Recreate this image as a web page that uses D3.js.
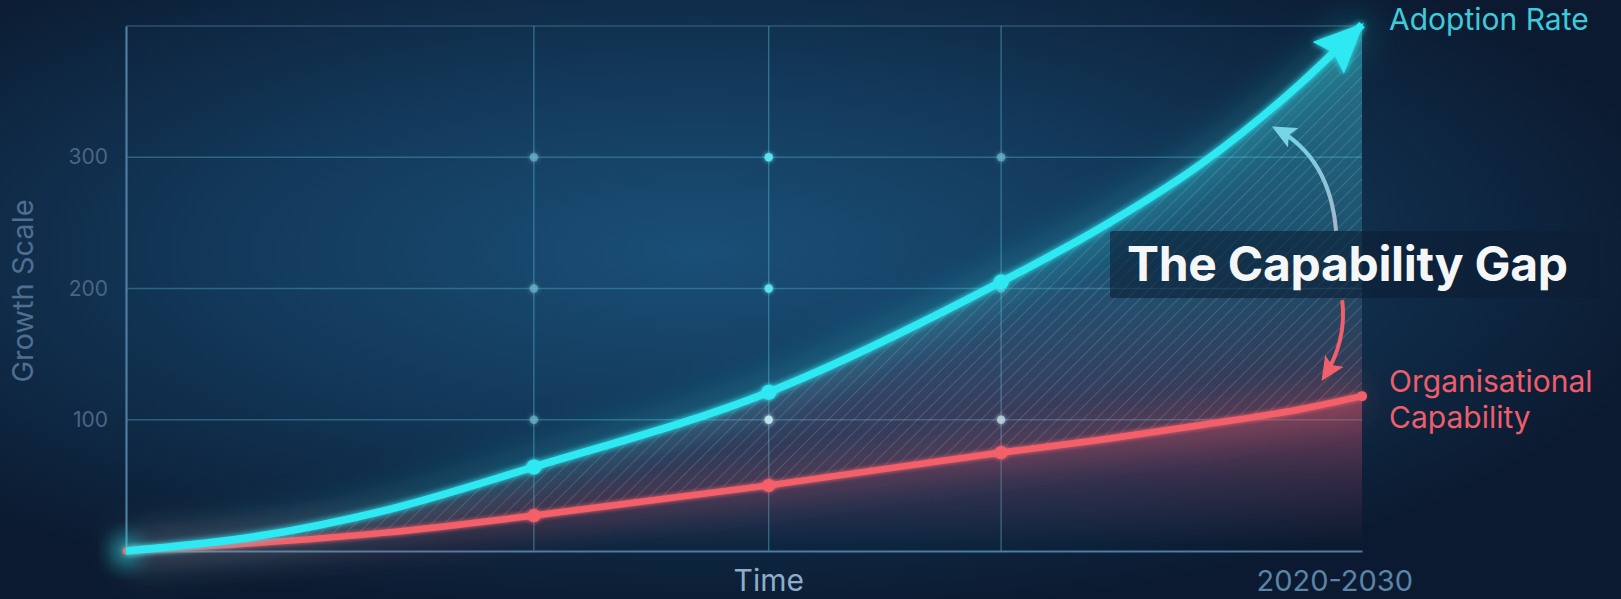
<!DOCTYPE html>
<html>
<head>
<meta charset="utf-8">
<script src="https://cdn.jsdelivr.net/npm/d3@7"></script>
<style>
  html, body { margin: 0; padding: 0; background: #0b1a2f; overflow: hidden; }
  svg { display: block; }
  text { font-family: "Inter", "Noto Sans", sans-serif; }
</style>
</head>
<body>
<svg id="chart" width="1621" height="599"></svg>
<script>
// ---------- data ----------
const timePoints   = [0, 1.05, 2.1, 3.3, 5.2, 7.08, 7.9, 8.7, 9.5, 10];   // years after 2020
const adoption     = [0, 11, 31, 64, 121, 205, 247, 295, 356, 401];       // Adoption Rate
const capability   = [0, 6, 14, 27, 50, 75, 85, 96, 108, 118];           // Organisational Capability
const yTicks       = [100, 200, 300];
const gridX        = [3.3, 5.2, 7.08];
const yAxisTitle   = "Growth Scale";
const xAxisTitle   = "Time";
const xRangeLabel  = "2020-2030";
const seriesNames  = ["Adoption Rate", ["Organisational", "Capability"]];
const gapTitle     = "The Capability Gap";

const W = 1621, H = 599;
const svg = d3.select("#chart");
const x = d3.scaleLinear().domain([0, 10]).range([126, 1362]);
const y = d3.scaleLinear().domain([0, 400]).range([551, 26]);

const defs = svg.append("defs");

// background gradient
const bg = defs.append("radialGradient").attr("id", "bg")
  .attr("cx", 0.43).attr("cy", 0.42).attr("r", 0.62);
bg.append("stop").attr("offset", 0).attr("stop-color", "#1a4f77");
bg.append("stop").attr("offset", 0.45).attr("stop-color", "#133a5c");
bg.append("stop").attr("offset", 1).attr("stop-color", "#0b1a30");

// gap fill gradient
const gapG = defs.append("linearGradient").attr("id", "gapG")
  .attr("gradientUnits", "userSpaceOnUse").attr("x1", 0).attr("x2", 0).attr("y1", 20).attr("y2", 560);
gapG.append("stop").attr("offset", 0).attr("stop-color", "#3fd3e3").attr("stop-opacity", 0.5);
gapG.append("stop").attr("offset", 0.45).attr("stop-color", "#3fb8d0").attr("stop-opacity", 0.22);
gapG.append("stop").attr("offset", 0.72).attr("stop-color", "#e0607a").attr("stop-opacity", 0.22);
gapG.append("stop").attr("offset", 1).attr("stop-color", "#f25c66").attr("stop-opacity", 0.15);

// horizontal fade (gap strongest at right)
const gapH = defs.append("linearGradient").attr("id", "gapH")
  .attr("gradientUnits", "userSpaceOnUse").attr("x1", 126).attr("x2", 1362).attr("y1", 0).attr("y2", 0);
gapH.append("stop").attr("offset", 0).attr("stop-color", "#fff").attr("stop-opacity", 0.35);
gapH.append("stop").attr("offset", 1).attr("stop-color", "#fff").attr("stop-opacity", 1);
const gapMask = defs.append("mask").attr("id", "gapMask");
gapMask.append("rect").attr("width", W).attr("height", H).attr("fill", "url(#gapH)");

// red fill under capability
const redG = defs.append("linearGradient").attr("id", "redG")
  .attr("gradientUnits", "userSpaceOnUse").attr("x1", 0).attr("x2", 0).attr("y1", 385).attr("y2", 545);
redG.append("stop").attr("offset", 0).attr("stop-color", "#f25c70").attr("stop-opacity", 0.55);
redG.append("stop").attr("offset", 0.6).attr("stop-color", "#c04a6a").attr("stop-opacity", 0.2);
redG.append("stop").attr("offset", 1).attr("stop-color", "#c04a6a").attr("stop-opacity", 0.0);

// hatch pattern
const hatch = defs.append("pattern").attr("id", "hatch")
  .attr("patternUnits", "userSpaceOnUse").attr("width", 9).attr("height", 9)
  .attr("patternTransform", "rotate(45)");
hatch.append("line").attr("x1", 0).attr("y1", 0).attr("x2", 0).attr("y2", 9)
  .attr("stroke", "#e8d8e8").attr("stroke-opacity", 0.28).attr("stroke-width", 1.2);

// filters
function glowFilter(id, sd) {
  const f = defs.append("filter").attr("id", id).attr("x", "-50%").attr("y", "-50%").attr("width", "200%").attr("height", "200%");
  f.append("feGaussianBlur").attr("in", "SourceGraphic").attr("stdDeviation", sd).attr("result", "b");
  const m = f.append("feMerge");
  m.append("feMergeNode").attr("in", "b");
  m.append("feMergeNode").attr("in", "SourceGraphic");
}
glowFilter("glow", 3);
glowFilter("glowS", 2);
const blur = defs.append("filter").attr("id", "blur").attr("x", "-50%").attr("y", "-50%").attr("width", "200%").attr("height", "200%");
blur.append("feGaussianBlur").attr("stdDeviation", 10);
const blurBig = defs.append("filter").attr("id", "blurBig").attr("x", "-50%").attr("y", "-50%").attr("width", "200%").attr("height", "200%");
blurBig.append("feGaussianBlur").attr("stdDeviation", 18);

// arrow markers
defs.append("marker").attr("id", "arrowCyan")
  .attr("markerUnits", "userSpaceOnUse").attr("viewBox", "0 0 40 36")
  .attr("markerWidth", 50).attr("markerHeight", 45).attr("refX", 38).attr("refY", 18).attr("orient", "auto")
  .append("path").attr("d", "M0,0 L40,18 L0,36 L6,18 Z").attr("fill", "#2ee8f2");
defs.append("marker").attr("id", "arrowAnnC")
  .attr("markerUnits", "userSpaceOnUse").attr("viewBox", "0 0 24 22")
  .attr("markerWidth", 24).attr("markerHeight", 22).attr("refX", 20).attr("refY", 11).attr("orient", "auto")
  .append("path").attr("d", "M0,0 L24,11 L0,22 L5,11 Z").attr("fill", "#78d4e4");
defs.append("marker").attr("id", "arrowAnnR")
  .attr("markerUnits", "userSpaceOnUse").attr("viewBox", "0 0 24 22")
  .attr("markerWidth", 24).attr("markerHeight", 22).attr("refX", 20).attr("refY", 11).attr("orient", "auto")
  .append("path").attr("d", "M0,0 L24,11 L0,22 L5,11 Z").attr("fill", "#f0606c");

const annCG = defs.append("linearGradient").attr("id", "annCG")
  .attr("gradientUnits", "userSpaceOnUse").attr("x1", 0).attr("x2", 0).attr("y1", y(245)).attr("y2", y(322));
annCG.append("stop").attr("offset", 0).attr("stop-color", "#aab4c8");
annCG.append("stop").attr("offset", 1).attr("stop-color", "#6fd6e6");

// ---------- background ----------
svg.append("rect").attr("width", W).attr("height", H).attr("fill", "url(#bg)");

// ---------- grid ----------
const grid = svg.append("g");
grid.selectAll("line.h").data(yTicks.concat([400])).join("line")
  .attr("x1", x(0)).attr("x2", x(10)).attr("y1", d => y(d)).attr("y2", d => y(d))
  .attr("stroke", d => d === 400 ? "#3f6f8f" : "#4aa3bd").attr("stroke-opacity", d => d === 400 ? 0.6 : 0.45).attr("stroke-width", 1.3);
grid.selectAll("line.v").data(gridX).join("line")
  .attr("x1", d => x(d)).attr("x2", d => x(d)).attr("y1", y(400)).attr("y2", y(0))
  .attr("stroke", "#4fb4cc").attr("stroke-opacity", 0.5).attr("stroke-width", 1.3);

// ---------- areas ----------
const curve = d3.curveMonotoneX;
const pts = timePoints.map((t, i) => ({ t, a: adoption[i], c: capability[i] }));

svg.append("path").datum(pts)
  .attr("d", d3.area().curve(curve).x(d => x(d.t)).y0(d => y(d.c)).y1(d => y(d.a)))
  .attr("fill", "url(#gapG)").attr("mask", "url(#gapMask)");
svg.append("path").datum(pts)
  .attr("d", d3.area().curve(curve).x(d => x(d.t)).y0(y(0)).y1(d => y(d.c)))
  .attr("fill", "url(#redG)");
svg.append("path").datum(pts)
  .attr("d", d3.area().curve(curve).x(d => x(d.t)).y0(d => y(d.c)).y1(d => y(d.a)))
  .attr("fill", "url(#hatch)");

// grid intersection dots
const inter = [];
gridX.forEach((gx, i) => yTicks.forEach((gy, j) => inter.push({ gx, gy, i, j })));
svg.append("g").selectAll("circle").data(inter).join("circle")
  .attr("cx", d => x(d.gx)).attr("cy", d => y(d.gy)).attr("r", 4.2)
  .attr("fill", d => d.j === 0 && d.i > 0 ? "#c8e4ee" : (d.i === 1 ? "#5ee4f0" : "#6ab4c8"))
  .attr("fill-opacity", d => d.i === 1 ? 0.95 : 0.7)
  .attr("filter", "url(#glowS)");

// ---------- axes ----------
const yAxis = svg.append("g").attr("transform", `translate(${x(0)},0)`)
  .call(d3.axisLeft(y).tickValues(yTicks).tickSize(0).tickPadding(18).tickFormat(d3.format("d")));
yAxis.select(".domain").attr("stroke", "#4d7d9f").attr("stroke-width", 2.2);
yAxis.selectAll("text").attr("fill", "#4a6583").attr("font-size", 21).attr("font-family", "Inter");

const xAxis = svg.append("g").attr("transform", `translate(0,${y(0)})`)
  .call(d3.axisBottom(x).tickValues([]).tickSizeOuter(0));
xAxis.select(".domain").attr("stroke", "#4d7d9f").attr("stroke-width", 2.2);

// ---------- lines ----------
const line = d3.line().curve(curve).x(d => x(d.t));
// halos
svg.append("path").datum(pts).attr("d", line.y(d => y(d.a)))
  .attr("fill", "none").attr("stroke", "#2ee8f2").attr("stroke-width", 26).attr("stroke-opacity", 0.28).attr("filter", "url(#blurBig)");
svg.append("path").datum(pts).attr("d", line.y(d => y(d.c)))
  .attr("fill", "none").attr("stroke", "#f25c66").attr("stroke-width", 22).attr("stroke-opacity", 0.3).attr("filter", "url(#blurBig)");
// origin glow
svg.append("circle").attr("cx", x(0)).attr("cy", y(0)).attr("r", 14).attr("fill", "#2ee8f2").attr("opacity", 0.6).attr("filter", "url(#blur)");

svg.append("path").datum(pts).attr("d", line.y(d => y(d.c)))
  .attr("fill", "none").attr("stroke", "#f4606a").attr("stroke-width", 6.5).attr("stroke-linecap", "round").attr("filter", "url(#glowS)");
svg.append("path").datum(pts).attr("d", line.y(d => y(d.a)))
  .attr("fill", "none").attr("stroke", "#2ee8f2").attr("stroke-width", 7.5).attr("stroke-linecap", "butt")
  .attr("marker-end", "url(#arrowCyan)").attr("filter", "url(#glow)");

// data points
const inner = pts.filter(d => gridX.includes(d.t));
svg.append("g").selectAll("circle").data(inner).join("circle")
  .attr("cx", d => x(d.t)).attr("cy", d => y(d.c)).attr("r", 6.5)
  .attr("fill", "#f4606a").attr("filter", "url(#glowS)");
svg.append("g").selectAll("circle").data(inner).join("circle")
  .attr("cx", d => x(d.t)).attr("cy", d => y(d.a)).attr("r", 7.5)
  .attr("fill", "#2ee8f2").attr("filter", "url(#glowS)");
svg.append("circle").attr("cx", x(10)).attr("cy", y(capability[capability.length - 1])).attr("r", 5).attr("fill", "#f4606a");

// ---------- gap annotation ----------
svg.append("rect").attr("x", 1110).attr("y", 231).attr("width", 490).attr("height", 67).attr("rx", 3)
  .attr("fill", "#0b1e33").attr("fill-opacity", 0.6);

svg.append("path")
  .attr("d", `M${x(9.79)},${y(244)} Q${x(9.74)},${y(300)} ${x(9.3)},${y(322)}`)
  .attr("fill", "none").attr("stroke", "url(#annCG)").attr("stroke-width", 4).attr("marker-end", "url(#arrowAnnC)");
svg.append("path")
  .attr("d", `M${x(9.84)},${y(191)} Q${x(9.88)},${y(160)} ${x(9.69)},${y(132)}`)
  .attr("fill", "none").attr("stroke", "#f0606c").attr("stroke-width", 4).attr("marker-end", "url(#arrowAnnR)");

svg.append("text").attr("x", 1127).attr("y", 281).text(gapTitle)
  .attr("fill", "#f4f6f8").attr("font-size", 48).attr("font-weight", 700).attr("letter-spacing", -0.3);

// ---------- labels ----------
svg.append("text").attr("x", 1389).attr("y", 30).text(seriesNames[0])
  .attr("fill", "#3fcadb").attr("font-size", 30);
svg.append("text").attr("x", 1389).attr("y", 392)
  .attr("fill", "#ee5e6a").attr("font-size", 30)
  .selectAll("tspan").data(seriesNames[1]).join("tspan")
  .attr("x", 1389).attr("dy", (d, i) => i === 0 ? 0 : 36).text(d => d);

svg.append("text").attr("x", x(5.2)).attr("y", 591).attr("text-anchor", "middle").text(xAxisTitle)
  .attr("fill", "#8eaccb").attr("font-size", 30);
svg.append("text").attr("x", 1413).attr("y", 591).attr("text-anchor", "end").text(xRangeLabel)
  .attr("fill", "#5a84a8").attr("font-size", 29);
svg.append("text").attr("transform", "translate(33,291) rotate(-90)").attr("text-anchor", "middle").text(yAxisTitle)
  .attr("fill", "#4f6e90").attr("font-size", 29);
</script>
</body>
</html>
